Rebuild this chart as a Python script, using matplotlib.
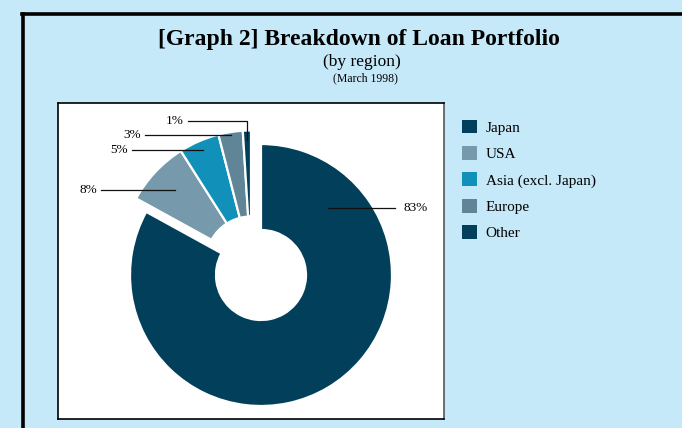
import numpy as np
import matplotlib
matplotlib.use("Agg")
import matplotlib.pyplot as plt
from matplotlib.patches import Patch
from matplotlib.lines import Line2D

# ---- data ----
regions = ["Japan", "USA", "Asia (excl. Japan)", "Europe", "Other"]
shares = [83, 8, 5, 3, 1]
share_labels = ["83%", "8%", "5%", "3%", "1%"]
colors = ["#023f5a", "#7699ab", "#1191b9", "#5f8597", "#023f5a"]

title = "[Graph 2] Breakdown of Loan Portfolio"
subtitle1 = "(by region)"
subtitle2 = "(March 1998)"

BG = "#c5e9f8"
W, H = 682, 428
fig = plt.figure(figsize=(W / 100, H / 100), dpi=100, facecolor=BG)
serif = ["Liberation Serif", "DejaVu Serif"]

def fx(px):
    return px / W

def fy(py):
    return 1 - py / H

# outer black frame (left and top)
fig.add_artist(Line2D([fx(23.5), fx(23.5)], [fy(13.5), fy(440)], color="black", lw=2.6,
                      transform=fig.transFigure))
fig.add_artist(Line2D([fx(22.2), fx(700)], [fy(13.5), fy(13.5)], color="black", lw=2.6,
                      transform=fig.transFigure))

# titles
fig.text(fx(359), fy(45), title, ha="center", va="baseline", fontsize=17,
         fontweight="bold", family=serif)
fig.text(fx(362), fy(66), subtitle1, ha="center", va="baseline", fontsize=12.5, family=serif)
fig.text(fx(365), fy(81), subtitle2, ha="center", va="baseline", fontsize=8.5, family=serif)

# pie box
bx0, bx1, by0, by1 = 58, 444, 103, 419
ax = fig.add_axes([fx(bx0), fy(by1), fx(bx1 - bx0), (by1 - by0) / H])
ax.set_facecolor("white")

R = 131.0  # px per unit radius
cx, cy = 261.0, 275.0
group_center = (-10.0 / R, 13.5 / R)
hole = 45.0 / R

wp = dict(width=1 - hole, edgecolor="white", linewidth=1.6)
w1, _ = ax.pie(shares, colors=colors, startangle=90, counterclock=False, radius=1,
               center=(0, 0), wedgeprops=wp, frame=True)
w2, _ = ax.pie(shares, colors=colors, startangle=90, counterclock=False, radius=1,
               center=group_center, wedgeprops=wp, frame=True)
for i, w in enumerate(w1):
    if i != 0:
        w.set_visible(False)
w2[0].set_visible(False)

ax.set_xlim((bx0 - cx) / R, (bx1 - cx) / R)
ax.set_ylim((cy - by1) / R, (cy - by0) / R)
ax.set_aspect("auto")
ax.set_xticks([])
ax.set_yticks([])
for s in ax.spines.values():
    s.set_color("black")
    s.set_linewidth(1.2)
ax.spines["right"].set_color("#555555")

# leader lines and labels
def mid_angle(w):
    return np.deg2rad((w.theta1 + w.theta2) / 2)

lab_fs = 9.5
line_kw = dict(color="#111111", lw=0.9)

# Japan
ang = np.deg2rad(45)
ax_, ay_ = 0.72 * np.cos(ang), 0.72 * np.sin(ang)
ax.plot([ax_, (395 - cx) / R], [ay_, ay_], **line_kw)
ax.text((403 - cx) / R, ay_, share_labels[0], ha="left", va="center", fontsize=lab_fs, family=serif)

anchor_r = [None, 0.80, 0.93, 0.98, 0.93]
text_right_px = [None, 97, 128, 141, 184]
gx, gy = group_center
for i in (1, 2, 3):
    a = mid_angle(w2[i])
    px_, py_ = gx + anchor_r[i] * np.cos(a), gy + anchor_r[i] * np.sin(a)
    x_end = (text_right_px[i] + 4 - cx) / R
    ax.plot([x_end, px_], [py_, py_], **line_kw)
    ax.text((text_right_px[i] - cx) / R, py_, share_labels[i], ha="right", va="center",
            fontsize=lab_fs, family=serif)

# Other (elbow)
a = mid_angle(w2[4])
px_, py_ = gx + anchor_r[4] * np.cos(a), gy + anchor_r[4] * np.sin(a)
ly = (cy - 121) / R
x_end = (text_right_px[4] + 4 - cx) / R
ax.plot([x_end, px_, px_], [ly, ly, py_], **line_kw)
ax.text((text_right_px[4] - cx) / R, ly, share_labels[4], ha="right", va="center",
        fontsize=lab_fs, family=serif)

# legend
handles = [Patch(facecolor=c, edgecolor="none") for c in colors]
fig.legend(handles, regions, loc="upper left", bbox_to_anchor=(fx(456), fy(113.5)),
           frameon=False, prop={"family": serif, "size": 11},
           handlelength=1.0, handleheight=1.0, handletextpad=0.55, labelspacing=0.74,
           borderaxespad=0, borderpad=0.4)

fig.savefig("out.png", dpi=100, facecolor=BG)
